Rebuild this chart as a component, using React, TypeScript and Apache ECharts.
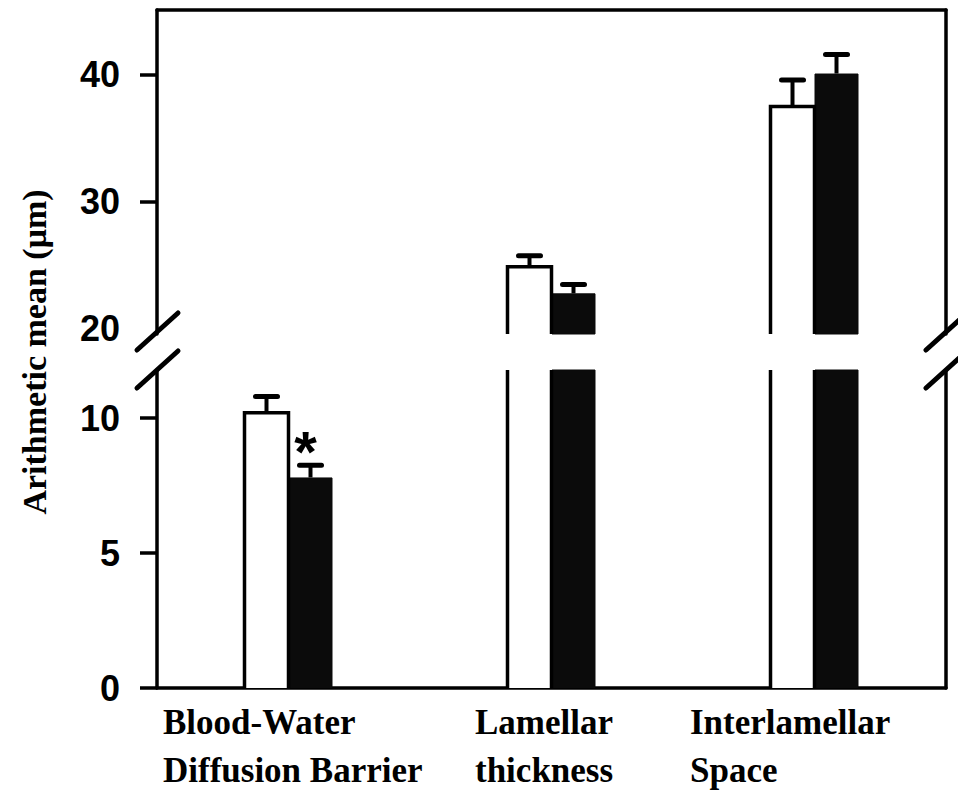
import React, { useEffect, useRef } from "react";
import * as echarts from "echarts";

const categories = ["Blood-Water\nDiffusion Barrier", "Lamellar\nthickness", "Interlamellar\nSpace"];
const controlMeans = [10.2, 24.9, 37.5];
const controlErrors = [0.6, 0.85, 2.1];
const treatedMeans = [7.8, 22.8, 40.1];
const treatedErrors = [0.45, 0.7, 1.5];
const significance = ["*", "", ""];
const upperTickValues = [30, 40];
const upperLabelValues = [20, 30, 40];
const lowerTickValues = [0, 5, 10];
const lowerRange = [0, 11.78];
const upperRange = [19.6, 45.1];
const yAxisTitle = "Arithmetic mean (\u03bcm)";

const BAR_WIDTH = 44;
const AXIS_W = 3.5;
const SERIF = "'Liberation Serif', 'Times New Roman', serif";
const SANS = "'Liberation Sans', Arial, sans-serif";

const errorData = () => {
  const d: number[][] = [];
  categories.forEach((_, i) => {
    d.push([i, controlMeans[i], controlErrors[i], -1]);
    d.push([i, treatedMeans[i], treatedErrors[i], 1]);
  });
  return d;
};

const outlineData = () => categories.map((_, i) => [i, controlMeans[i]]);

const renderError = (params: any, api: any) => {
  const cat = api.value(0);
  const mean = api.value(1);
  const err = api.value(2);
  const side = api.value(3);
  const cs = params.coordSys;
  const base = api.coord([cat, mean]);
  const top = api.coord([cat, mean + err]);
  if (base[1] < cs.y - 1 || base[1] > cs.y + cs.height + 1) return null;
  const x = base[0] + (side * BAR_WIDTH) / 2;
  return {
    type: "group",
    children: [
      { type: "line", shape: { x1: x, y1: base[1], x2: x, y2: top[1] }, style: { stroke: "#000", lineWidth: 4 } },
      {
        type: "line",
        shape: { x1: x - 11, y1: top[1], x2: x + 11, y2: top[1] },
        style: { stroke: "#000", lineWidth: 5, lineCap: "round" },
      },
    ],
  };
};

const renderOutline = (params: any, api: any) => {
  const cat = api.value(0);
  const mean = api.value(1);
  const cs = params.coordSys;
  const p0 = api.coord([cat, 0]);
  const p1 = api.coord([cat, mean]);
  const xL = p0[0] - BAR_WIDTH;
  const xR = p0[0];
  const gridTop = cs.y;
  const gridBot = cs.y + cs.height;
  const yb = Math.min(p0[1], gridBot);
  const yt = Math.max(p1[1], gridTop);
  if (yt >= yb) return null;
  const st = { stroke: "#000", lineWidth: 3.5, fill: null, lineJoin: "miter" };
  if (p1[1] >= gridTop) {
    return {
      type: "polyline",
      shape: { points: [[xL, yb], [xL, yt], [xR, yt], [xR, yb]] },
      style: st,
    };
  }
  return {
    type: "group",
    children: [
      { type: "line", shape: { x1: xL, y1: yb, x2: xL, y2: yt }, style: st },
      { type: "line", shape: { x1: xR, y1: yb, x2: xR, y2: yt }, style: st },
    ],
  };
};

const labelWidths = [251, 153, 249];

export default function App() {
  const ref = useRef<HTMLDivElement>(null);
  useEffect(() => {
    if (!ref.current) return;
    const chart = echarts.init(ref.current, undefined, { renderer: "svg" });
    const axisLine = { show: true, onZero: false, lineStyle: { color: "#000", width: AXIS_W } };
    const rich: any = {};
    labelWidths.forEach((w, i) => {
      rich["c" + i] = {
        width: w,
        align: "left",
        fontFamily: SERIF,
        fontWeight: "bold",
        fontSize: 35,
        color: "#000",
        lineHeight: 48,
      };
    });
    const yLabel = { fontFamily: SANS, fontWeight: "bold", fontSize: 36, color: "#000", margin: 37 };
    const barCommon = { barWidth: BAR_WIDTH, barGap: "0%", clip: true };
    const whiteStyle = { color: "#fff", borderWidth: 0 };
    const blackStyle = { color: "#0b0b0b", borderColor: "#0b0b0b", borderWidth: 1 };
    chart.setOption({
      animation: false,
      backgroundColor: "#fff",
      grid: [
        { left: 157, right: 12, top: 10, height: 324 },
        { left: 157, right: 12, top: 370, height: 318 },
      ],
      xAxis: [
        {
          type: "category",
          gridIndex: 0,
          position: "top",
          data: categories,
          axisLine,
          axisTick: { show: false },
          axisLabel: { show: false },
          splitLine: { show: false },
        },
        {
          type: "category",
          gridIndex: 1,
          position: "bottom",
          data: categories,
          axisLine,
          axisTick: { show: false },
          axisLabel: {
            interval: 0,
            margin: 10,
            formatter: (v: string, i: number) =>
              v
                .split("\n")
                .map((l) => `{c${i}|${l}}`)
                .join("\n"),
            rich,
          },
          splitLine: { show: false },
        },
      ],
      yAxis: [
        {
          type: "value",
          gridIndex: 0,
          position: "left",
          min: upperRange[0],
          max: upperRange[1],
          axisLine,
          axisTick: { show: true, length: 17, customValues: upperTickValues, lineStyle: { width: AXIS_W, color: "#000" } },
          axisLabel: { ...yLabel, customValues: upperLabelValues },
          splitLine: { show: false },
        },
        {
          type: "value",
          gridIndex: 0,
          position: "right",
          min: upperRange[0],
          max: upperRange[1],
          axisLine,
          axisTick: { show: false },
          axisLabel: { show: false },
          splitLine: { show: false },
        },
        {
          type: "value",
          gridIndex: 1,
          position: "left",
          min: lowerRange[0],
          max: lowerRange[1],
          axisLine,
          axisTick: { show: true, length: 17, customValues: lowerTickValues, lineStyle: { width: AXIS_W, color: "#000" } },
          axisLabel: { ...yLabel, customValues: lowerTickValues },
          splitLine: { show: false },
        },
        {
          type: "value",
          gridIndex: 1,
          position: "right",
          min: lowerRange[0],
          max: lowerRange[1],
          axisLine,
          axisTick: { show: false },
          axisLabel: { show: false },
          splitLine: { show: false },
        },
      ],
      series: [
        { type: "bar", xAxisIndex: 0, yAxisIndex: 0, data: controlMeans, itemStyle: whiteStyle, ...barCommon },
        { type: "bar", xAxisIndex: 0, yAxisIndex: 0, data: treatedMeans, itemStyle: blackStyle, ...barCommon },
        { type: "bar", xAxisIndex: 1, yAxisIndex: 2, data: controlMeans, itemStyle: whiteStyle, ...barCommon },
        {
          type: "bar",
          xAxisIndex: 1,
          yAxisIndex: 2,
          data: treatedMeans,
          itemStyle: blackStyle,
          ...barCommon,
          label: {
            show: true,
            position: "top",
            distance: -3,
            offset: [-5, 0],
            formatter: (p: any) => significance[p.dataIndex],
            fontFamily: SANS,
            fontWeight: "bold",
            fontSize: 58,
            color: "#000",
          },
        },
        { type: "custom", xAxisIndex: 0, yAxisIndex: 0, data: outlineData(), renderItem: renderOutline, clip: true, z: 4 },
        { type: "custom", xAxisIndex: 1, yAxisIndex: 2, data: outlineData(), renderItem: renderOutline, clip: true, z: 4 },
        { type: "custom", xAxisIndex: 0, yAxisIndex: 0, data: errorData(), renderItem: renderError, clip: true, z: 5 },
        { type: "custom", xAxisIndex: 1, yAxisIndex: 2, data: errorData(), renderItem: renderError, clip: true, z: 5 },
      ],
      graphic: [
        {
          type: "text",
          x: 34,
          y: 352,
          rotation: Math.PI / 2,
          style: {
            text: yAxisTitle,
            fontFamily: SERIF,
            fontWeight: "bold",
            fontSize: 34,
            fill: "#000",
            align: "center",
            verticalAlign: "middle",
          },
        },
        { type: "line", shape: { x1: 137, y1: 350, x2: 178, y2: 313 }, style: { stroke: "#000", lineWidth: 5, lineCap: "round" } },
        { type: "line", shape: { x1: 137, y1: 388, x2: 178, y2: 351 }, style: { stroke: "#000", lineWidth: 5, lineCap: "round" } },
        { type: "line", shape: { x1: 926, y1: 350, x2: 967, y2: 313 }, style: { stroke: "#000", lineWidth: 5, lineCap: "round" } },
        { type: "line", shape: { x1: 926, y1: 388, x2: 967, y2: 351 }, style: { stroke: "#000", lineWidth: 5, lineCap: "round" } },
      ],
    });
    return () => chart.dispose();
  }, []);
  return <div ref={ref} style={{ position: "absolute", left: 0, top: 0, width: 958, height: 795 }} />;
}
